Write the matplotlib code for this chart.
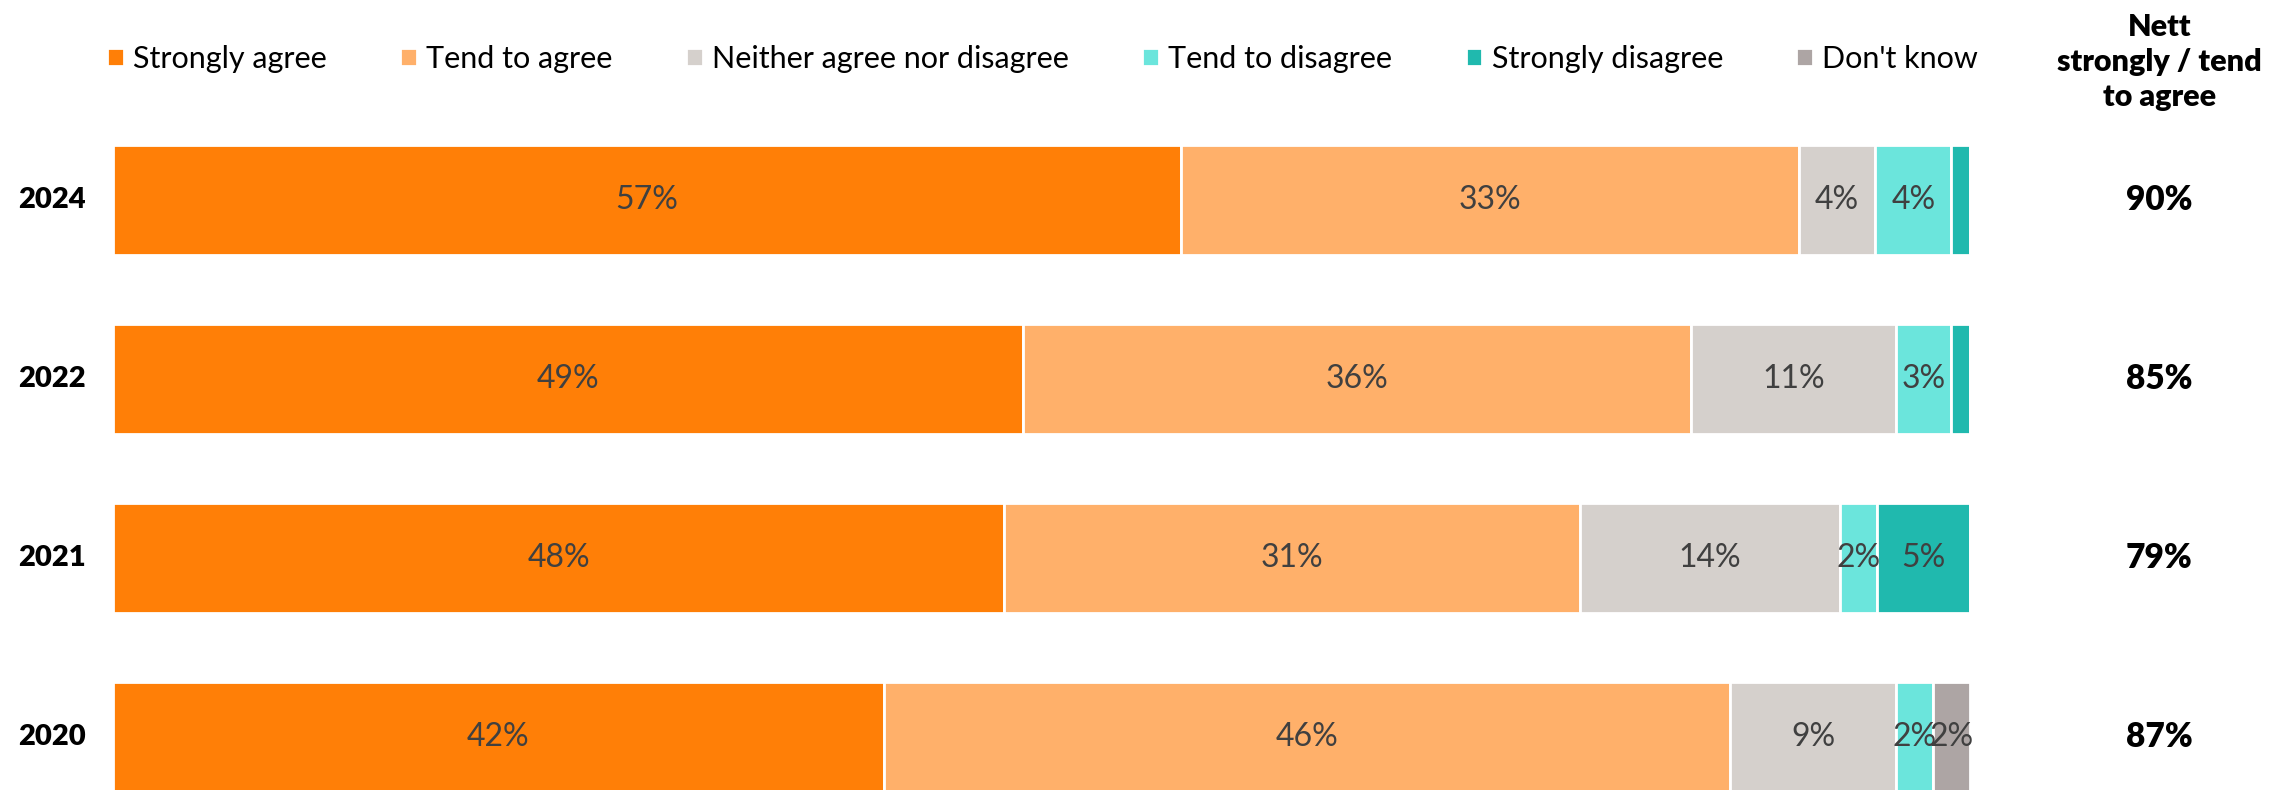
import numpy as np
import matplotlib.pyplot as plt

plt.rcParams['font.family'] = ['Lato', 'DejaVu Sans']

years = ['2024', '2022', '2021', '2020']
categories = ['Strongly agree', 'Tend to agree', 'Neither agree nor disagree',
              'Tend to disagree', 'Strongly disagree', "Don't know"]
strongly_agree = [57.5, 49, 48, 41.5]
tend_agree = [33.3, 36, 31, 45.6]
neither = [4.1, 11, 14, 8.9]
tend_disagree = [4.1, 3, 2, 2]
strongly_disagree = [1, 1, 5, 0]
dont_know = [0, 0, 0, 2]
labels = [['57%', '33%', '4%', '4%', '', ''],
          ['49%', '36%', '11%', '3%', '', ''],
          ['48%', '31%', '14%', '2%', '5%', ''],
          ['42%', '46%', '9%', '2%', '', '2%']]
nett = ['90%', '85%', '79%', '87%']
colors = ['#FF7F07', '#FFB06A', '#D5D0CC', '#6BE5DC', '#20B9AE', '#ADA5A4']

series = [strongly_agree, tend_agree, neither, tend_disagree, strongly_disagree, dont_know]

fig = plt.figure(figsize=(22.95, 7.9), dpi=100)
ax = fig.add_axes([113 / 2295, 0, 1857 / 2295, 1])

y = np.arange(len(years))
left = np.zeros(len(years))
for i, vals in enumerate(series):
    vals = np.array(vals, dtype=float)
    ax.barh(y, vals, left=left, height=0.615, color=colors[i],
            edgecolor='white', linewidth=2, label=categories[i])
    for j in range(len(years)):
        if labels[j][i]:
            ax.text(left[j] + vals[j] / 2, y[j], labels[j][i], ha='center', va='center',
                    fontsize=23, color='#404040', fontweight='normal')
    left += vals

for j in range(len(years)):
    ax.text(-5.1, y[j], years[j], ha='left', va='center', fontsize=21,
            fontweight='heavy', color='black')
    ax.text(110.2, y[j], nett[j], ha='center', va='center', fontsize=24,
            fontweight='heavy', color='black')

ax.text(110.2, -0.77, 'Nett\nstrongly / tend\nto agree', ha='center', va='center',
        fontsize=22, fontweight='heavy', color='black', linespacing=1.3)

ax.legend(loc='center left', bbox_to_anchor=(-0.003, (3.296 + 0.788) / (3.296 + 1.117)),
          ncol=6, frameon=False, fontsize=22, handlelength=0.55, handleheight=0.55,
          handletextpad=0.3, columnspacing=2.4, borderaxespad=0, borderpad=0)

ax.set_xlim(0, 100)
ax.set_ylim(3.296, -1.117)
ax.axis('off')

fig.savefig('out.png', dpi=100)
